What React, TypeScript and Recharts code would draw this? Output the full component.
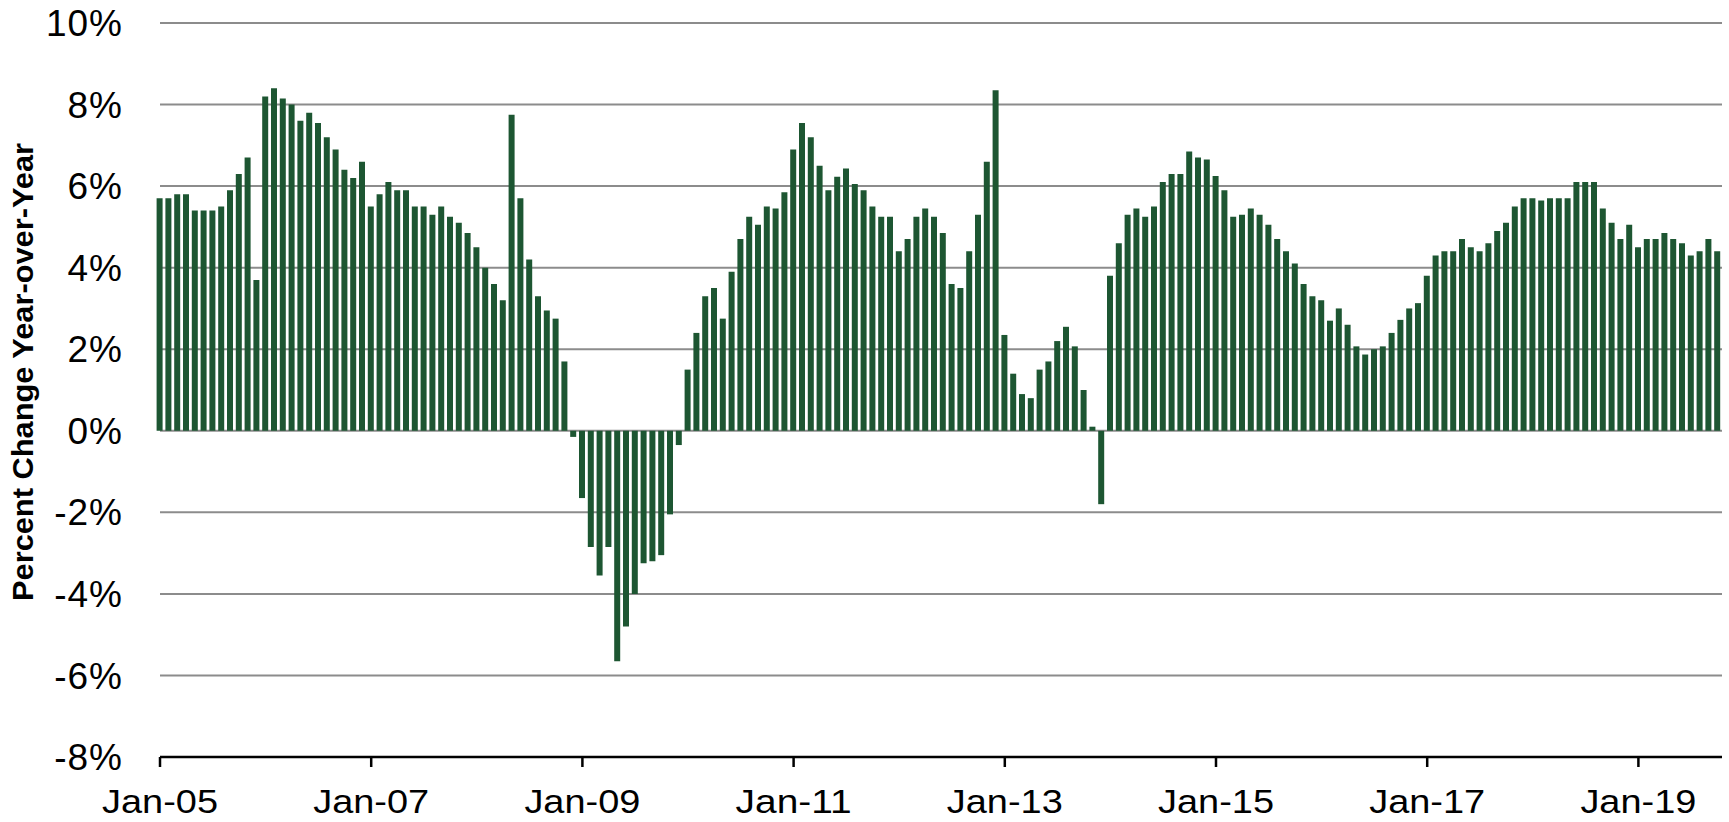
import React from 'react';
import { BarChart, Bar, XAxis, YAxis, CartesianGrid } from 'recharts';

// Year-over-year percent change, monthly, Jan-2005 .. Oct-2019
const y2005 = [5.7, 5.7, 5.8, 5.8, 5.4, 5.4, 5.4, 5.5, 5.9, 6.3, 6.7, 3.7];
const y2006 = [8.2, 8.4, 8.15, 8.0, 7.6, 7.8, 7.55, 7.2, 6.9, 6.4, 6.2, 6.6];
const y2007 = [5.5, 5.8, 6.1, 5.9, 5.9, 5.5, 5.5, 5.3, 5.5, 5.25, 5.1, 4.85];
const y2008 = [4.5, 4.0, 3.6, 3.2, 7.75, 5.7, 4.2, 3.3, 2.95, 2.75, 1.7, -0.15];
const y2009 = [-1.65, -2.85, -3.55, -2.85, -5.65, -4.8, -4.0, -3.25, -3.2, -3.05, -2.05, -0.35];
const y2010 = [1.5, 2.4, 3.3, 3.5, 2.75, 3.9, 4.7, 5.25, 5.05, 5.5, 5.45, 5.85];
const y2011 = [6.9, 7.55, 7.2, 6.5, 5.9, 6.23, 6.43, 6.05, 5.9, 5.5, 5.25, 5.25];
const y2012 = [4.4, 4.7, 5.25, 5.45, 5.25, 4.85, 3.6, 3.5, 4.4, 5.3, 6.6, 8.35];
const y2013 = [2.35, 1.4, 0.9, 0.8, 1.5, 1.7, 2.2, 2.55, 2.07, 1.0, 0.1, -1.8];
const y2014 = [3.8, 4.6, 5.3, 5.45, 5.25, 5.5, 6.1, 6.3, 6.3, 6.85, 6.7, 6.65];
const y2015 = [6.25, 5.9, 5.25, 5.3, 5.45, 5.3, 5.05, 4.7, 4.4, 4.1, 3.6, 3.3];
const y2016 = [3.2, 2.7, 3.0, 2.6, 2.07, 1.87, 2.0, 2.07, 2.4, 2.72, 3.0, 3.13];
const y2017 = [3.8, 4.3, 4.4, 4.4, 4.7, 4.5, 4.4, 4.6, 4.9, 5.1, 5.5, 5.7];
const y2018 = [5.7, 5.65, 5.7, 5.7, 5.7, 6.1, 6.1, 6.1, 5.45, 5.1, 4.7, 5.05];
const y2019 = [4.5, 4.7, 4.7, 4.85, 4.7, 4.6, 4.3, 4.4, 4.7, 4.4];

const yoyValues = [
  ...y2005, ...y2006, ...y2007, ...y2008, ...y2009, ...y2010, ...y2011, ...y2012,
  ...y2013, ...y2014, ...y2015, ...y2016, ...y2017, ...y2018, ...y2019,
];

const monthNames = ['Jan', 'Feb', 'Mar', 'Apr', 'May', 'Jun', 'Jul', 'Aug', 'Sep', 'Oct', 'Nov', 'Dec'];
const startYear = 5; // 2005

const categories: string[] = yoyValues.map(
  (_, i) => `${monthNames[i % 12]}-${String(startYear + Math.floor(i / 12)).padStart(2, '0')}`
);

// tick positions (month index) and labels
const xTickIndices = [0, 24, 48, 72, 96, 120, 144, 168];
const xTickLabels = ['Jan-05', 'Jan-07', 'Jan-09', 'Jan-11', 'Jan-13', 'Jan-15', 'Jan-17', 'Jan-19'];
const yTicks = [-8, -6, -4, -2, 0, 2, 4, 6, 8, 10];

const data = yoyValues.map((v, i) => ({ idx: i, month: categories[i], value: v }));

const FONT = "'Liberation Sans', Arial, Helvetica, sans-serif";
const BAR_COLOR = '#1D5632';
const GRID_COLOR = '#8C8C8C';

const XTick = (props: any) => {
  const { x, y, payload } = props;
  const k = xTickIndices.indexOf(payload.value);
  const label = k >= 0 ? xTickLabels[k] : categories[payload.value];
  return (
    <text
      x={x}
      y={y}
      dy="0.71em"
      textAnchor="middle"
      fontFamily={FONT}
      fontSize={34}
      fill="#000"
      textLength={116}
      lengthAdjust="spacingAndGlyphs"
    >
      {label}
    </text>
  );
};

const YTick = (props: any) => {
  const { x, y, payload } = props;
  return (
    <text
      x={x}
      y={y}
      dy="0.355em"
      textAnchor="end"
      fontFamily={FONT}
      fontSize={37}
      fill="#000"
      letterSpacing={1}
    >
      {`${payload.value}%`}
    </text>
  );
};

const YTitle = () => (
  <text
    x={0}
    y={0}
    transform="translate(33,372) rotate(-90)"
    textAnchor="middle"
    fontFamily="'Liberation Sans Narrow', 'Liberation Sans', Arial, sans-serif"
    fontWeight="bold"
    fontSize={30}
    fill="#000"
    textLength={458}
    lengthAdjust="spacingAndGlyphs"
  >
    Percent Change Year-over-Year
  </text>
);

export default function App() {
  return (
    <div style={{ position: 'absolute', left: 0, top: 0, width: 1729, height: 822, background: '#fff' }}>
      <BarChart
        width={1729}
        height={822}
        data={data}
        margin={{ top: 23, right: 7, bottom: 0, left: 0 }}
      >
        <CartesianGrid vertical={false} stroke={GRID_COLOR} strokeWidth={2} />
        <XAxis
          dataKey="idx"
          type="number"
          domain={[0, 177.5]}
          ticks={xTickIndices}
          interval={0}
          height={65}
          tickSize={10}
          tickMargin={22}
          axisLine={{ stroke: '#000', strokeWidth: 2.5 }}
          tickLine={{ stroke: '#000', strokeWidth: 2.5 }}
          tick={<XTick />}
        />
        <YAxis
          type="number"
          domain={[-8, 10]}
          ticks={yTicks}
          interval={0}
          width={160}
          axisLine={false}
          tickLine={false}
          tickSize={0}
          tickMargin={37}
          tick={<YTick />}
          label={<YTitle />}
        />
        <Bar dataKey="value" fill={BAR_COLOR} barSize={6} isAnimationActive={false} />
      </BarChart>
    </div>
  );
}
